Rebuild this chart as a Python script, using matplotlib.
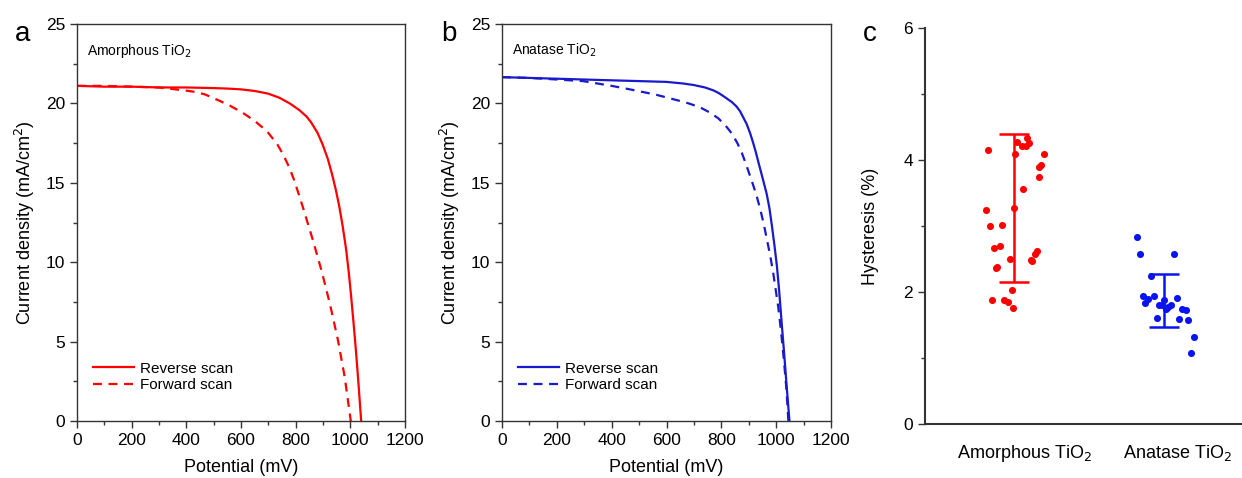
import matplotlib
matplotlib.use("Agg")
import matplotlib.pyplot as plt
import numpy as np
from matplotlib.ticker import MultipleLocator

plt.rcParams['font.family'] = ['Liberation Sans', 'DejaVu Sans']

# ---- panel a: amorphous TiO2 J-V curves
amor_rev_v = [0, 100, 200, 300, 400, 500, 550, 600, 650, 700, 741, 780, 814, 840, 857, 880, 898, 918, 934,
              948, 960, 972, 985, 995, 1003, 1012, 1021, 1030, 1040]
amor_rev_j = [21.1, 21.05, 21.05, 21.0, 21.0, 20.96, 20.93, 20.88, 20.78, 20.61, 20.35, 19.98, 19.57, 19.17,
              18.8, 18.15, 17.45, 16.5, 15.5, 14.5, 13.5, 12.3, 10.8, 9.3, 7.9, 6.2, 4.4, 2.4, 0.0]
amor_fwd_v = [0, 100, 200, 300, 400, 440, 470, 523, 560, 607, 650, 695, 732, 754, 780, 798, 827, 864,
              896, 926, 955, 980, 1002]
amor_fwd_j = [21.1, 21.1, 21.05, 21.0, 20.8, 20.7, 20.55, 20.15, 19.85, 19.4, 18.9, 18.25, 17.45, 16.8,
              15.85, 15.0, 13.45, 11.35, 9.4, 7.35, 5.1, 2.75, 0.0]

# ---- panel b: anatase TiO2 J-V curves
ana_rev_v = [0, 100, 200, 357, 500, 600, 660, 700, 740, 770, 790, 810, 838, 855, 868, 880, 892, 905, 915,
             925, 934, 950, 965, 975, 984, 993, 1002, 1010, 1020, 1028, 1036, 1042, 1048]
ana_rev_j = [21.65, 21.6, 21.55, 21.47, 21.4, 21.35, 21.25, 21.15, 21.0, 20.82, 20.65, 20.42, 20.08, 19.8,
             19.5, 19.1, 18.7, 18.1, 17.55, 16.95, 16.35, 15.3, 14.3, 13.4, 12.3, 11.1, 9.8, 8.3, 6.1,
             4.4, 2.6, 1.3, 0.0]
ana_fwd_v = [0, 100, 200, 295, 400, 478, 560, 638, 680, 722, 760, 789, 815, 838, 858, 874, 890, 911,
             928, 942, 955, 965, 978, 989, 998, 1007, 1015, 1023, 1030, 1036, 1040, 1044]
ana_fwd_j = [21.65, 21.6, 21.5, 21.4, 21.1, 20.84, 20.55, 20.2, 20.0, 19.75, 19.4, 19.05, 18.6, 18.1,
             17.5, 16.9, 16.15, 15.1, 14.2, 13.3, 12.35, 11.5, 10.4, 9.3, 8.25, 7.2, 6.0, 4.7, 3.4,
             2.2, 1.2, 0.0]

# ---- panel c: hysteresis scatter
groups = ['Amorphous TiO$_2$', 'Anatase TiO$_2$']
amor_hyst = [4.15, 4.10, 4.28, 4.22, 4.21, 4.26, 4.33, 4.10, 3.92, 3.90, 3.75, 3.56, 3.24, 3.27,
             3.00, 3.02, 2.67, 2.70, 2.50, 2.62, 2.58, 2.47, 2.49, 2.38, 2.36, 2.03, 1.88, 1.88, 1.85, 1.76]
amor_jitter = [-0.173, 0.007, 0.02, 0.053, 0.08, 0.1, 0.087, 0.2, 0.18, 0.167, 0.167, 0.06, -0.187, 0.0,
               -0.16, -0.08, -0.133, -0.093, -0.027, 0.153, 0.14, 0.12, 0.113, -0.113, -0.12, -0.013,
               -0.147, -0.067, -0.04, -0.007]
ana_hyst = [2.83, 2.58, 2.58, 2.24, 1.94, 1.94, 1.90, 1.84, 1.91, 1.88, 1.81, 1.81, 1.81, 1.74, 1.77,
            1.75, 1.73, 1.60, 1.59, 1.57, 1.32, 1.07]
ana_jitter = [-0.18, -0.16, 0.067, -0.087, -0.14, -0.067, -0.107, -0.127, 0.087, 0.0, -0.033, -0.013,
              0.047, 0.013, 0.027, 0.12, 0.147, -0.047, 0.1, 0.16, 0.2, 0.18]
hyst_mean = [3.27, 1.87]
hyst_sd = [1.12, 0.40]

red = '#ff0000'
blue = '#1a1acc'
blue_dot = '#0a14f0'
spine_c = '#333333'

fig = plt.figure(figsize=(12.42, 4.78), dpi=100)


def style_jv(ax):
    ax.set_xlim(0, 1200)
    ax.set_ylim(0, 25)
    ax.xaxis.set_major_locator(MultipleLocator(200))
    ax.xaxis.set_minor_locator(MultipleLocator(100))
    ax.yaxis.set_major_locator(MultipleLocator(5))
    ax.yaxis.set_minor_locator(MultipleLocator(2.5))
    ax.tick_params(which='both', direction='out', top=False, right=False,
                   labelsize=12.5, color=spine_c, width=1)
    ax.tick_params(which='major', length=5)
    ax.tick_params(which='minor', length=3)
    for s in ax.spines.values():
        s.set_color(spine_c)
        s.set_linewidth(1)
    ax.set_xlabel('Potential (mV)', fontsize=13, labelpad=8)
    ax.set_ylabel('Current density (mA/cm$^2$)', fontsize=13, labelpad=6)


# panel a
ax1 = fig.add_axes([0.062, 0.119, 0.264, 0.831])
ax1.plot(amor_rev_v, amor_rev_j, color=red, lw=1.6, label='Reverse scan')
ax1.plot(amor_fwd_v, amor_fwd_j, color=red, lw=1.6, ls=(0, (4, 3)), label='Forward scan')
style_jv(ax1)
ax1.text(0.03, 0.955, 'Amorphous TiO$_2$', transform=ax1.transAxes, fontsize=10, va='top')
ax1.legend(loc='lower left', bbox_to_anchor=(0.02, 0.05), frameon=False, fontsize=11,
           handlelength=2.7, handletextpad=0.4, labelspacing=0.15, borderaxespad=0.2)
fig.text(0.012, 0.915, 'a', fontsize=20)

# panel b
ax2 = fig.add_axes([0.4042, 0.119, 0.265, 0.831])
ax2.plot(ana_rev_v, ana_rev_j, color=blue, lw=1.6, label='Reverse scan')
ax2.plot(ana_fwd_v, ana_fwd_j, color=blue, lw=1.6, ls=(0, (4, 3)), label='Forward scan')
style_jv(ax2)
ax2.text(0.03, 0.955, 'Anatase TiO$_2$', transform=ax2.transAxes, fontsize=10, va='top')
ax2.legend(loc='lower left', bbox_to_anchor=(0.02, 0.05), frameon=False, fontsize=11,
           handlelength=2.7, handletextpad=0.4, labelspacing=0.15, borderaxespad=0.2)
fig.text(0.355, 0.915, 'b', fontsize=20)

# panel c
ax3 = fig.add_axes([0.7448, 0.113, 0.2552, 0.828])
ax3.scatter(1 + np.array(amor_jitter), amor_hyst, s=26, color=red, zorder=3, linewidths=0)
ax3.scatter(2 + np.array(ana_jitter), ana_hyst, s=26, color=blue_dot, zorder=3, linewidths=0)
ax3.errorbar([1], [hyst_mean[0]], yerr=[hyst_sd[0]], color=red, lw=1.8, capsize=11, capthick=1.8, fmt='none')
ax3.errorbar([2], [hyst_mean[1]], yerr=[hyst_sd[1]], color=blue_dot, lw=1.8, capsize=11, capthick=1.8, fmt='none')
ax3.set_xlim(0.407, 2.52)
ax3.set_ylim(0, 6)
ax3.set_xticks([1.07, 2.09])
ax3.set_xticklabels(groups)
ax3.yaxis.set_major_locator(MultipleLocator(2))
ax3.yaxis.set_minor_locator(MultipleLocator(1))
ax3.tick_params(axis='x', length=0, labelsize=13, pad=14)
ax3.tick_params(axis='y', which='both', direction='out', labelsize=12.5, color=spine_c, width=1)
ax3.tick_params(axis='y', which='major', length=5)
ax3.tick_params(axis='y', which='minor', length=3)
ax3.spines['top'].set_visible(False)
ax3.spines['right'].set_visible(False)
for s in ['left', 'bottom']:
    ax3.spines[s].set_color(spine_c)
    ax3.spines[s].set_linewidth(1.5)
ax3.set_ylabel('Hysteresis (%)', fontsize=13, labelpad=18)
fig.text(0.695, 0.915, 'c', fontsize=20)

fig.savefig('out.png', dpi=100)
